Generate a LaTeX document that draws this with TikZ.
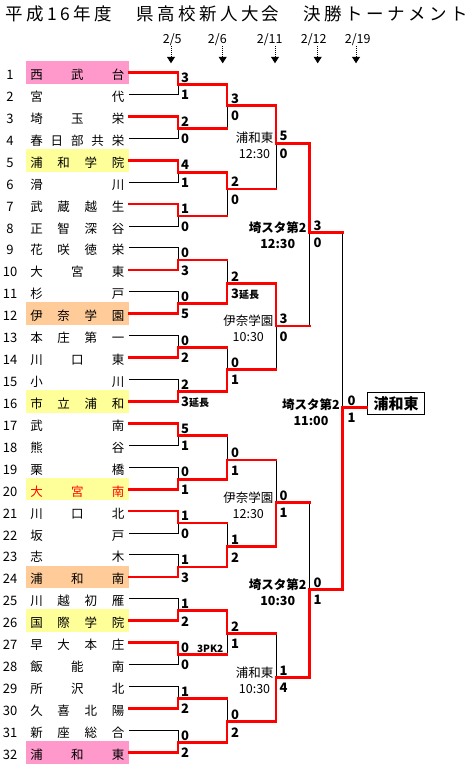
\documentclass[tikz,border=0pt]{standalone}
\usepackage{fontspec}
\setmainfont{Noto Sans CJK JP}
\newfontfamily\titlefont[LetterSpace=19.5]{Noto Sans CJK JP}
\usetikzlibrary{arrows.meta,calc,positioning}

\definecolor{namepink}{HTML}{FF99CC}
\definecolor{nameyellow}{HTML}{FFFF99}
\definecolor{namepeach}{HTML}{FFCC99}
\definecolor{bracketred}{HTML}{FF0000}

% team name spread over the whole cell
\newcommand{\spread}[1]{\hbox to 94pt{\spaceskip=0pt plus 1fil #1}}
\newcommand{\smallnote}[1]{{\fontsize{10}{12}\selectfont\bfseries #1}}
% one game: top entry, bottom entry, joint, winner (t/b)
\newcommand{\bout}[4]{%
  \if t#4\def\bwin{#1}\def\blose{#2}\else\def\bwin{#2}\def\blose{#1}\fi
  \draw[loseline] (\blose) -| (#3);
  \draw[winline] (\bwin) -| (#3);}

\begin{document}
\begin{tikzpicture}[
    x=1pt, y=-1pt,
    every node/.style={font=\fontsize{12.5}{14}\selectfont},
    teambox/.style={minimum width=102.7pt, minimum height=22.6pt, inner sep=0pt,
                    text height=14pt, text depth=0pt, font=\fontsize{12.5}{14}\selectfont},
    pinkbox/.style={teambox, fill=namepink},
    yellowbox/.style={teambox, fill=nameyellow},
    peachbox/.style={teambox, fill=namepeach},
    plainbox/.style={teambox},
    redname/.style={yellowbox, text=bracketred},
    rownum/.style={inner sep=0pt, text height=14pt, text depth=0pt,
                   font=\fontsize{13}{14}\selectfont},
    winline/.style={draw=bracketred, line width=2.7pt, line cap=rect},
    loseline/.style={draw=black, line width=1pt},
    score/.style={anchor=west, inner sep=0pt, font=\fontsize{13}{14}\selectfont\bfseries},
    venue/.style={anchor=east, align=center, inner sep=0pt, font=\fontsize{12.5}{16}\selectfont},
    bigvenue/.style={venue, font=\fontsize{12.5}{16}\selectfont\bfseries},
    datelbl/.style={inner sep=0pt},
    datearrow/.style={line width=1pt, dash pattern=on 1pt off 1pt,
                      -{Triangle[width=8pt, length=6.5pt]}},
    champbox/.style={draw, line width=1.2pt, minimum width=56.6pt, minimum height=21.6pt,
                     inner sep=0pt, font=\fontsize{15}{16}\selectfont\bfseries},
]
\path[use as bounding box, fill=white] (0,0) rectangle (468,769);

% Title
\node[anchor=west, inner sep=0pt, font=\titlefont\fontsize{17.5}{20}\selectfont]
  (title) at (5.5,13.5) {平成16年度　県高校新人大会　決勝トーナメント};

% Dates with arrows
\foreach \i/\dd/\lx/\ax in {1/5/172.2/171, 2/6/217.3/222.7, 3/11/269.7/275,
                             4/12/313.7/317.7, 5/19/357.7/356}
{
  \node[datelbl] (d\i) at (\lx,40) {2/\dd};
  \coordinate (a\i) at (\ax,63.3);
  \draw[datearrow] (d\i.south -| a\i) -- (a\i);
}

% Teams
\foreach \n/\name/\sty in {
    1/西 武 台/pinkbox, 2/宮 代/plainbox, 3/埼 玉 栄/plainbox, 4/春 日 部 共 栄/plainbox,
    5/浦 和 学 院/yellowbox, 6/滑 川/plainbox, 7/武 蔵 越 生/plainbox, 8/正 智 深 谷/plainbox,
    9/花 咲 徳 栄/plainbox, 10/大 宮 東/plainbox, 11/杉 戸/plainbox, 12/伊 奈 学 園/peachbox,
    13/本 庄 第 一/plainbox, 14/川 口 東/plainbox, 15/小 川/plainbox, 16/市 立 浦 和/yellowbox,
    17/武 南/plainbox, 18/熊 谷/plainbox, 19/栗 橋/plainbox, 20/大 宮 南/redname,
    21/川 口 北/plainbox, 22/坂 戸/plainbox, 23/志 木/plainbox, 24/浦 和 南/peachbox,
    25/川 越 初 雁/plainbox, 26/国 際 学 院/yellowbox, 27/早 大 本 庄/plainbox, 28/飯 能 南/plainbox,
    29/所 沢 北/plainbox, 30/久 喜 北 陽/plainbox, 31/新 座 総 合/plainbox, 32/浦 和 東/pinkbox}
{
  \node[\sty] (t\n) at (77.3, {72.5+21.93*(\n-1)}) {\spread{\name}};
  \node[rownum] (n\n) at (10, {72.5+21.93*(\n-1)}) {\n};
}

% Joints of every round
\foreach \k in {1,...,16}
  \coordinate (m1-\k) at (178, {72.5+21.93*(2*\k-2)+12});
\foreach \k/\y in {1/105.7, 2/189, 3/283.3, 4/369.3, 5/460, 6/546.7, 7/633.3, 8/721.7}
  \coordinate (m2-\k) at (227, \y);
\foreach \k/\y in {1/143.3, 2/326, 3/502.3, 4/677.7}
  \coordinate (m3-\k) at (276, \y);
\foreach \k/\y in {1/232.7, 2/589.3}
  \coordinate (m4-\k) at (309.3, \y);
\coordinate (m5-1) at (342.5, 407.7);

% Round 1
\foreach \k/\w/\st/\sb in {1/t/3/1, 2/t/2/0, 3/t/4/1, 4/t/1/0, 5/b/0/3, 6/b/0/5, 7/b/0/2,
    8/b/2/{3\smallnote{延長}}, 9/t/5/1, 10/b/0/1, 11/t/1/0, 12/b/1/3, 13/b/1/2,
    14/t/{0\hspace{8pt}\smallnote{3PK2}}/0, 15/b/1/2, 16/b/0/2}
{
  \pgfmathtruncatemacro\ia{2*\k-1}
  \pgfmathtruncatemacro\ib{2*\k}
  \bout{t\ia.east}{t\ib.east}{m1-\k}{\w}
  \node[score] (s1-\k-a) at ($(m1-\k)+(3,-7)$) {\st};
  \node[score] (s1-\k-b) at ($(m1-\k)+(3,10.5)$) {\sb};
}

% Round 2
\foreach \k/\w/\st/\sb in {1/t/3/0, 2/t/2/0, 3/b/2/{3\smallnote{延長}}, 4/b/0/1,
    5/b/0/1, 6/b/1/2, 7/t/2/1, 8/b/0/2}
{
  \pgfmathtruncatemacro\ia{2*\k-1}
  \pgfmathtruncatemacro\ib{2*\k}
  \bout{m1-\ia}{m1-\ib}{m2-\k}{\w}
  \draw[winline] (m1-\ia) -- (m1-\ia -| m2-\k);
  \draw[winline] (m1-\ib) -- (m1-\ib -| m2-\k);
  \node[score] (s2-\k-a) at ($(m2-\k)+(4,-7)$) {\st};
  \node[score] (s2-\k-b) at ($(m2-\k)+(4,10.5)$) {\sb};
}

% Round 3
\foreach \k/\w/\st/\sb/\where/\when in {1/t/5/0/浦和東/12:30, 2/t/3/0/伊奈学園/10:30,
    3/b/0/1/伊奈学園/12:30, 4/b/1/4/浦和東/10:30}
{
  \pgfmathtruncatemacro\ia{2*\k-1}
  \pgfmathtruncatemacro\ib{2*\k}
  \bout{m2-\ia}{m2-\ib}{m3-\k}{\w}
  \draw[winline] (m2-\ia) -- (m2-\ia -| m3-\k);
  \draw[winline] (m2-\ib) -- (m2-\ib -| m3-\k);
  \node[score] (s3-\k-a) at ($(m3-\k)+(3.5,-7)$) {\st};
  \node[score] (s3-\k-b) at ($(m3-\k)+(3.5,10.5)$) {\sb};
  \node[venue] (v3-\k) at ($(m3-\k)+(-2.5,2.5)$) {\where\\\when};
}

% Round 4
\foreach \k/\w/\st/\sb/\when in {1/t/3/0/12:30, 2/b/0/1/10:30}
{
  \pgfmathtruncatemacro\ia{2*\k-1}
  \pgfmathtruncatemacro\ib{2*\k}
  \bout{m3-\ia}{m3-\ib}{m4-\k}{\w}
  \draw[winline] (m3-\ia) -- (m3-\ia -| m4-\k);
  \draw[winline] (m3-\ib) -- (m3-\ib -| m4-\k);
  \node[score] (s4-\k-a) at ($(m4-\k)+(4,-7)$) {\st};
  \node[score] (s4-\k-b) at ($(m4-\k)+(4,10.5)$) {\sb};
  \node[bigvenue] (v4-\k) at ($(m4-\k)+(-2.5,2.5)$) {埼スタ第2\\\when};
}

% Final
\bout{m4-1}{m4-2}{m5-1}{b}
\draw[winline] (m4-1) -- (m4-1 -| m5-1);
\draw[winline] (m4-2) -- (m4-2 -| m5-1);
\node[score] (s5-1-a) at ($(m5-1)+(5,-7)$) {0};
\node[score] (s5-1-b) at ($(m5-1)+(5,10.5)$) {1};
\node[bigvenue] (v5-1) at ($(m5-1)+(-2.5,4)$) {埼スタ第2\\11:00};

\node[champbox] (champ) at (396,403.5) {浦和東};
\draw[winline] (m5-1) -- (m5-1 -| champ.west);

\end{tikzpicture}
\end{document}
